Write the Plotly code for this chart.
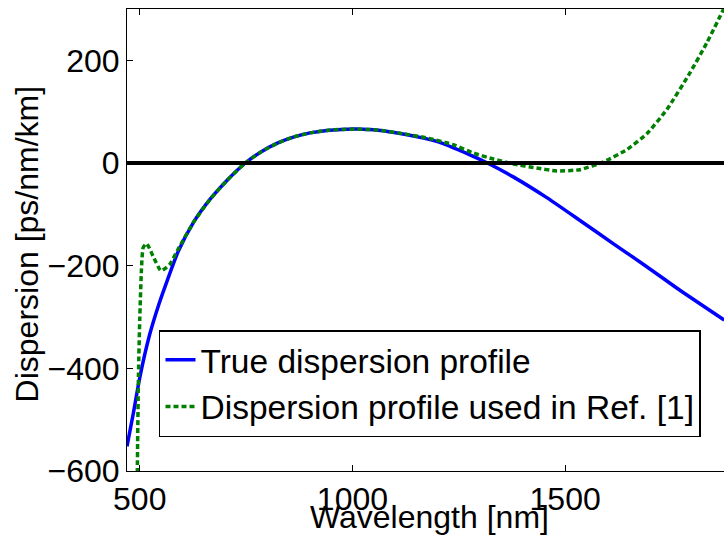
import plotly.graph_objects as go

# True dispersion profile (wavelength nm, dispersion ps/nm/km)
wl_true = [470, 485, 500, 523, 545, 565, 590, 626, 665, 705, 748, 783, 822, 861,
           900, 940, 975, 1009, 1060, 1119, 1198, 1276, 1315, 1378, 1456, 1535,
           1613, 1692, 1770, 1874]
d_true = [-552, -487, -418, -335, -275, -228, -173, -116, -71, -34, 0, 20.6, 38.1,
          50.5, 58.7, 63.5, 65.5, 66, 64, 56.5, 42, 16, 1, -27, -67, -112, -157,
          -202, -248, -306]

# Dispersion profile used in Ref. [1]
wl_ref = [494, 497, 500, 504, 508, 516, 522, 531, 550, 570, 590, 626, 665, 705,
          748, 783, 822, 861, 900, 940, 975, 1009, 1060, 1119, 1180, 1237, 1284,
          1331, 1378, 1433, 1480, 1535, 1590, 1645, 1692, 1739, 1793, 1833, 1874]
d_ref = [-620, -410, -304, -207, -165, -157, -165, -181, -210, -198, -168, -116,
         -71, -34, 0, 20.6, 38.1, 50.5, 58.7, 63.5, 65.5, 66, 64.2, 57, 48, 35.6,
         19.5, 7.8, -2, -9.7, -15.5, -13, 2, 26, 57, 104, 175, 234, 302]

x_ticks = [500, 1000, 1500]
y_ticks = [-600, -400, -200, 0, 200]
x_title = "Wavelength [nm]"
y_title = "Dispersion [ps/nm/km]"

FONT = "Liberation Sans, Arial, Helvetica, sans-serif"

fig = go.Figure()
fig.add_trace(go.Scatter(
    x=wl_true, y=d_true, mode="lines", name="True dispersion profile",
    line=dict(color="#0000FF", width=3.5, shape="spline", smoothing=0.6),
))
fig.add_trace(go.Scatter(
    x=wl_ref, y=d_ref, mode="lines", name="Dispersion profile used in Ref. [1]",
    line=dict(color="#008000", width=3.5, dash="5px,3px", shape="spline", smoothing=0.5),
))

fig.add_shape(type="line", xref="paper", x0=0, x1=1, yref="y", y0=0, y1=0,
              line=dict(color="black", width=4), layer="above")

fig.add_annotation(text=x_title, xref="paper", yref="paper", x=0.5075, y=-0.100,
                   xanchor="center", yanchor="middle", showarrow=False,
                   font=dict(family=FONT, size=32, color="black"))
fig.add_annotation(text=y_title, xref="paper", yref="paper", x=-0.168, y=0.492,
                   xanchor="center", yanchor="middle", showarrow=False, textangle=-90,
                   font=dict(family=FONT, size=32, color="black"))

fig.update_layout(
    width=724, height=544,
    margin=dict(l=127, r=0, t=9, b=73, autoexpand=False),
    paper_bgcolor="white", plot_bgcolor="white",
    font=dict(family=FONT, size=32, color="black"),
    showlegend=True,
    legend=dict(
        x=0.0536, y=0.305, xanchor="left", yanchor="top",
        bgcolor="white", bordercolor="black", borderwidth=1.5,
        font=dict(family=FONT, size=33.5, color="black"),
        tracegroupgap=0, itemwidth=30,
    ),
    xaxis=dict(
        range=[470, 1873.5], tickvals=x_ticks, ticks="inside", ticklen=6,
        tickcolor="black", showline=True, linecolor="black", linewidth=1,
        mirror="ticks", showgrid=False, zeroline=False, automargin=False,
        tickfont=dict(family=FONT, size=32),
    ),
    yaxis=dict(
        range=[-600, 300], tickvals=y_ticks, ticks="inside", ticklen=6,
        tickcolor="black", showline=True, linecolor="black", linewidth=1,
        mirror=False, showgrid=False, zeroline=False, automargin=False,
        tickfont=dict(family=FONT, size=32),
    ),
)

fig.write_html(
    "out.html",
    config={"displayModeBar": False},
    post_script="document.body.style.margin='0';document.body.style.overflow='hidden';",
)
